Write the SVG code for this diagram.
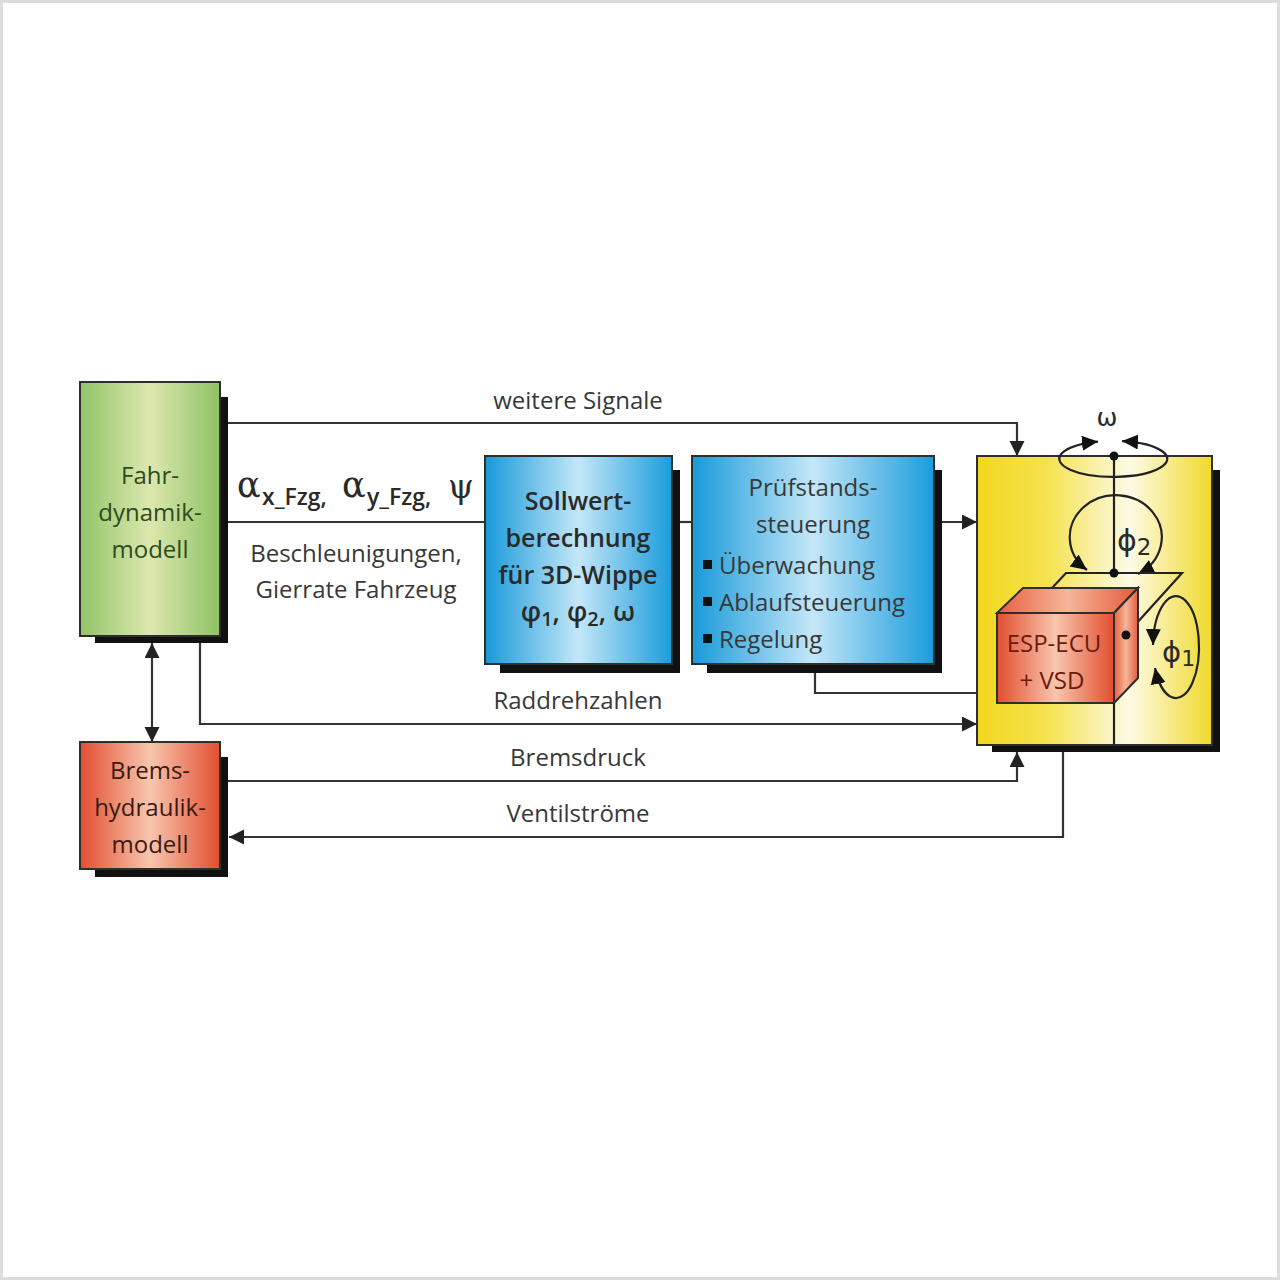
<svg xmlns="http://www.w3.org/2000/svg" width="1280" height="1280" viewBox="0 0 1280 1280">
<style>
  .t { font-family: 'Open Sans', 'DejaVu Sans', sans-serif; font-size: 24px; fill: #383838; text-anchor: middle; }
  .tl { font-family: 'Open Sans', 'DejaVu Sans', sans-serif; font-size: 24px; fill: #383838; }
  .b { font-family: 'Open Sans', 'DejaVu Sans', sans-serif; font-size: 25px; font-weight: 600; fill: #2a2a2a; text-anchor: middle; }
  .sub { font-family: 'Open Sans', 'DejaVu Sans', sans-serif; font-size: 23px; font-weight: 600; fill: #2a2a2a; }
  .gr { font-family: 'DejaVu Sans', sans-serif; fill: #2a2a2a; }
  .grs { font-family: 'DejaVu Serif', 'Liberation Serif', serif; fill: #2a2a2a; }
  .box { stroke: #2e2e2e; stroke-width: 2; }
  .sh { fill: #111; }
  .ln { fill: none; stroke: #333; stroke-width: 2.2; }
  .ln2 { fill: none; stroke: #222; stroke-width: 2.2; }
</style>
<defs>
  <linearGradient id="gGreen" x1="0" y1="0" x2="1" y2="0">
    <stop offset="0" stop-color="#92c467"/>
    <stop offset="0.5" stop-color="#dce8ae"/>
    <stop offset="1" stop-color="#8fc264"/>
  </linearGradient>
  <linearGradient id="gBlue" x1="0" y1="0" x2="1" y2="0">
    <stop offset="0" stop-color="#189ada"/>
    <stop offset="0.5" stop-color="#c4e7f8"/>
    <stop offset="1" stop-color="#1a9cdc"/>
  </linearGradient>
  <linearGradient id="gRed" x1="0" y1="0" x2="1" y2="0">
    <stop offset="0" stop-color="#e24e30"/>
    <stop offset="0.5" stop-color="#f8c6ae"/>
    <stop offset="1" stop-color="#e24e30"/>
  </linearGradient>
  <linearGradient id="gRedS" x1="0" y1="0" x2="1" y2="0">
    <stop offset="0" stop-color="#e8603f"/>
    <stop offset="0.5" stop-color="#f6b59a"/>
    <stop offset="1" stop-color="#e55a3a"/>
  </linearGradient>
  <linearGradient id="gYellow" x1="0" y1="0" x2="1" y2="0">
    <stop offset="0" stop-color="#f1d81e"/>
    <stop offset="0.3" stop-color="#f5e250"/>
    <stop offset="0.65" stop-color="#fefbe6"/>
    <stop offset="1" stop-color="#f0d92a"/>
  </linearGradient>
  <marker id="arr" markerUnits="userSpaceOnUse" markerWidth="16" markerHeight="16" refX="15" refY="7.5" orient="auto-start-reverse">
    <path d="M0,0 L15,7.5 L0,15 z" fill="#222"/>
  </marker>
  <marker id="arrS" markerUnits="userSpaceOnUse" markerWidth="17" markerHeight="16" refX="16" refY="7.5" orient="auto-start-reverse">
    <path d="M0,0 L16,7.5 L0,15 z" fill="#111"/>
  </marker>
</defs>

<rect x="1.5" y="1.5" width="1277" height="1277" fill="#ffffff" stroke="#dcdcdc" stroke-width="3"/>

<g id="connectors">
  <path class="ln" d="M228,423 H1017 V456" marker-end="url(#arr)"/>
  <path class="ln" d="M228,522 H485"/>
  <path class="ln" d="M672,522 H692"/>
  <path class="ln" d="M942,522 H977" marker-end="url(#arr)"/>
  <path class="ln" d="M815,673 V693 H977"/>
  <path class="ln" d="M200,643 V724 H977" marker-end="url(#arr)"/>
  <path class="ln" d="M152,643 V742" marker-start="url(#arr)" marker-end="url(#arr)"/>
  <path class="ln" d="M228,781 H1017 V752" marker-end="url(#arr)"/>
  <path class="ln" d="M1063,752 V837 H229" marker-end="url(#arr)"/>
  <text class="t" x="578" y="409">weitere Signale</text>
  <text class="t" x="578" y="709">Raddrehzahlen</text>
  <text class="t" x="578" y="766">Bremsdruck</text>
  <text class="t" x="578" y="822">Ventilströme</text>
  <text class="grs" x="237" y="497" font-size="35">α</text>
  <text class="sub" x="262" y="505">x_Fzg,</text>
  <text class="grs" x="342" y="497" font-size="35">α</text>
  <text class="sub" x="367" y="505">y_Fzg,</text>
  <text class="grs" x="448" y="498" font-size="33">ψ</text>
  <text class="t" x="356" y="562">Beschleunigungen,</text>
  <text class="t" x="356" y="598">Gierrate Fahrzeug</text>
</g>

<g id="fahrdynamikmodell">
  <rect class="sh" x="95" y="397" width="133" height="246"/>
  <rect class="box" x="80" y="382" width="140" height="254" fill="url(#gGreen)"/>
  <text class="t" x="150" y="484" style="fill:#2f4a1f">Fahr-</text>
  <text class="t" x="150" y="521" style="fill:#2f4a1f">dynamik-</text>
  <text class="t" x="150" y="558" style="fill:#2f4a1f">modell</text>
</g>

<g id="bremshydraulikmodell">
  <rect class="sh" x="95" y="757" width="133" height="120"/>
  <rect class="box" x="80" y="742" width="140" height="127" fill="url(#gRed)"/>
  <text class="t" x="150" y="779" style="fill:#3a1a12">Brems-</text>
  <text class="t" x="150" y="816" style="fill:#3a1a12">hydraulik-</text>
  <text class="t" x="150" y="853" style="fill:#3a1a12">modell</text>
</g>

<g id="sollwertberechnung">
  <rect class="sh" x="500" y="470" width="180" height="203"/>
  <rect class="box" x="485" y="456" width="187" height="208" fill="url(#gBlue)"/>
  <text class="b" x="578" y="510">Sollwert-</text>
  <text class="b" x="578" y="547">berechnung</text>
  <text class="b" x="578" y="584">für 3D-Wippe</text>
  <text class="b" x="578" y="621" style="font-size:27px">φ<tspan style="font-size:20px" dy="5">1</tspan><tspan dy="-5">, φ</tspan><tspan style="font-size:20px" dy="5">2</tspan><tspan dy="-5">, ω</tspan></text>
</g>

<g id="pruefstandssteuerung">
  <rect class="sh" x="707" y="470" width="235" height="203"/>
  <rect class="box" x="692" y="456" width="242" height="208" fill="url(#gBlue)"/>
  <text class="t" x="813" y="496">Prüfstands-</text>
  <text class="t" x="813" y="533">steuerung</text>
  <rect x="703" y="560" width="9" height="9" fill="#111"/>
  <text class="tl" x="719" y="574">Überwachung</text>
  <rect x="703" y="597" width="9" height="9" fill="#111"/>
  <text class="tl" x="719" y="611">Ablaufsteuerung</text>
  <rect x="703" y="634" width="9" height="9" fill="#111"/>
  <text class="tl" x="719" y="648">Regelung</text>
</g>

<g id="pruefstand">
  <rect class="sh" x="992" y="470" width="228" height="282"/>
  <rect class="box" x="977" y="456" width="235" height="289" fill="url(#gYellow)"/>
  <path class="ln2" d="M1098,441.6 A54,18 0 1,0 1122,441.1" marker-start="url(#arrS)" marker-end="url(#arrS)"/>
  <text class="gr" x="1107" y="426" font-size="25" text-anchor="middle">ω</text>
  <path class="ln2" d="M1114,456 V573"/>
  <path class="ln2" d="M1087,570 A46,42 0 1,1 1138,574" marker-start="url(#arrS)" marker-end="url(#arrS)"/>
  <text class="gr" x="1117" y="551" font-size="30">ϕ<tspan font-size="23" dy="4">2</tspan></text>
  <path class="ln2" d="M1052,588 L1066,573 L1182,573 L1126,635"/>
  <polygon class="box" points="997,613 1023,588 1138,588 1114,613" fill="url(#gRedS)"/>
  <polygon class="box" points="1114,613 1138,588 1138,678 1114,703" fill="url(#gRedS)"/>
  <rect class="box" x="997" y="613" width="117" height="90" fill="url(#gRed)"/>
  <text class="t" x="1054" y="652" style="fill:#6b1a0e">ESP-ECU</text>
  <text class="t" x="1052" y="689" style="fill:#6b1a0e">+ VSD</text>
  <path class="ln2" d="M1114,703 V745"/>
  <circle cx="1114" cy="456" r="4.5" fill="#111"/>
  <circle cx="1114" cy="573" r="4.5" fill="#111"/>
  <circle cx="1126" cy="635" r="4.5" fill="#111"/>
  <path class="ln2" d="M1153,645 A23,51 0 1,1 1155,668" marker-start="url(#arrS)" marker-end="url(#arrS)"/>
  <text class="gr" x="1162" y="662" font-size="29">ϕ<tspan font-size="22" dy="4">1</tspan></text>
</g>
</svg>
